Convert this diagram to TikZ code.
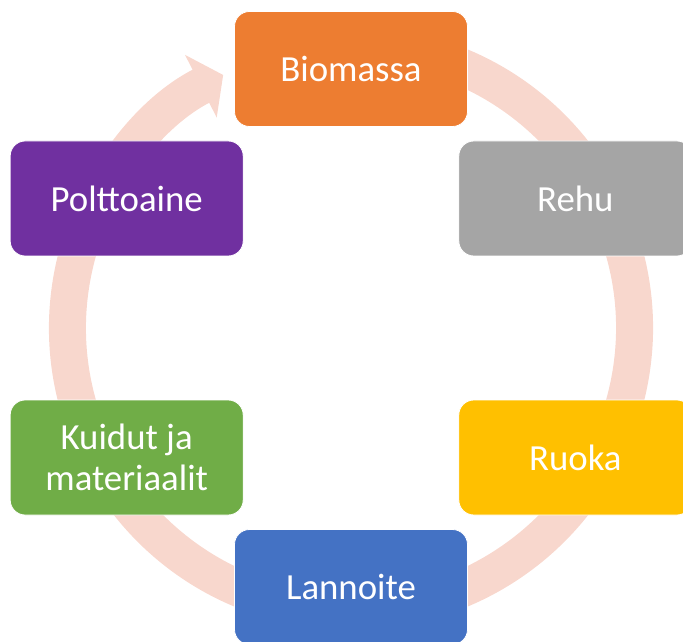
\documentclass[tikz,border=0pt]{standalone}
\usepackage{fontspec}
\setmainfont{Carlito}
\usetikzlibrary{calc}
\usetikzlibrary{arrows.meta}

\definecolor{ringcol}{HTML}{F8D7CD}
\definecolor{orangebox}{HTML}{ED7D31}
\definecolor{graybox}{HTML}{A5A5A5}
\definecolor{goldbox}{HTML}{FFC000}
\definecolor{bluebox}{HTML}{4472C4}
\definecolor{greenbox}{HTML}{70AD47}
\definecolor{purplebox}{HTML}{7030A0}

\tikzset{box/.style={rounded corners=15pt, minimum width=233pt, minimum height=115pt,
  draw=white, line width=0.8pt, text=white, align=center,
  font=\fontsize{36.8}{41}\selectfont}}

\begin{document}
\begin{tikzpicture}[x=1pt,y=1pt]
\useasboundingbox (0,0) rectangle (683,641);
\clip (0,0) rectangle (683,641);
\coordinate (c) at (351,313);
\draw[ringcol, line width=37pt, -{Triangle[length=25pt,width=69pt]}] ($(c)+(75:283.5)$) arc[start angle=75, end angle=-243.2, radius=283.5];
\foreach \a/\n/\col/\txt in {90/bio/orangebox/Biomassa, 30/rehu/graybox/Rehu, -30/ruoka/goldbox/Ruoka,
  -90/lann/bluebox/Lannoite, -150/kuid/greenbox/{Kuidut ja\\materiaalit}, 150/polt/purplebox/Polttoaine} {
 \node[box, fill=\col] (\n) at ($(c)+(\a:259)$) {\txt};
};
\end{tikzpicture}
\end{document}
